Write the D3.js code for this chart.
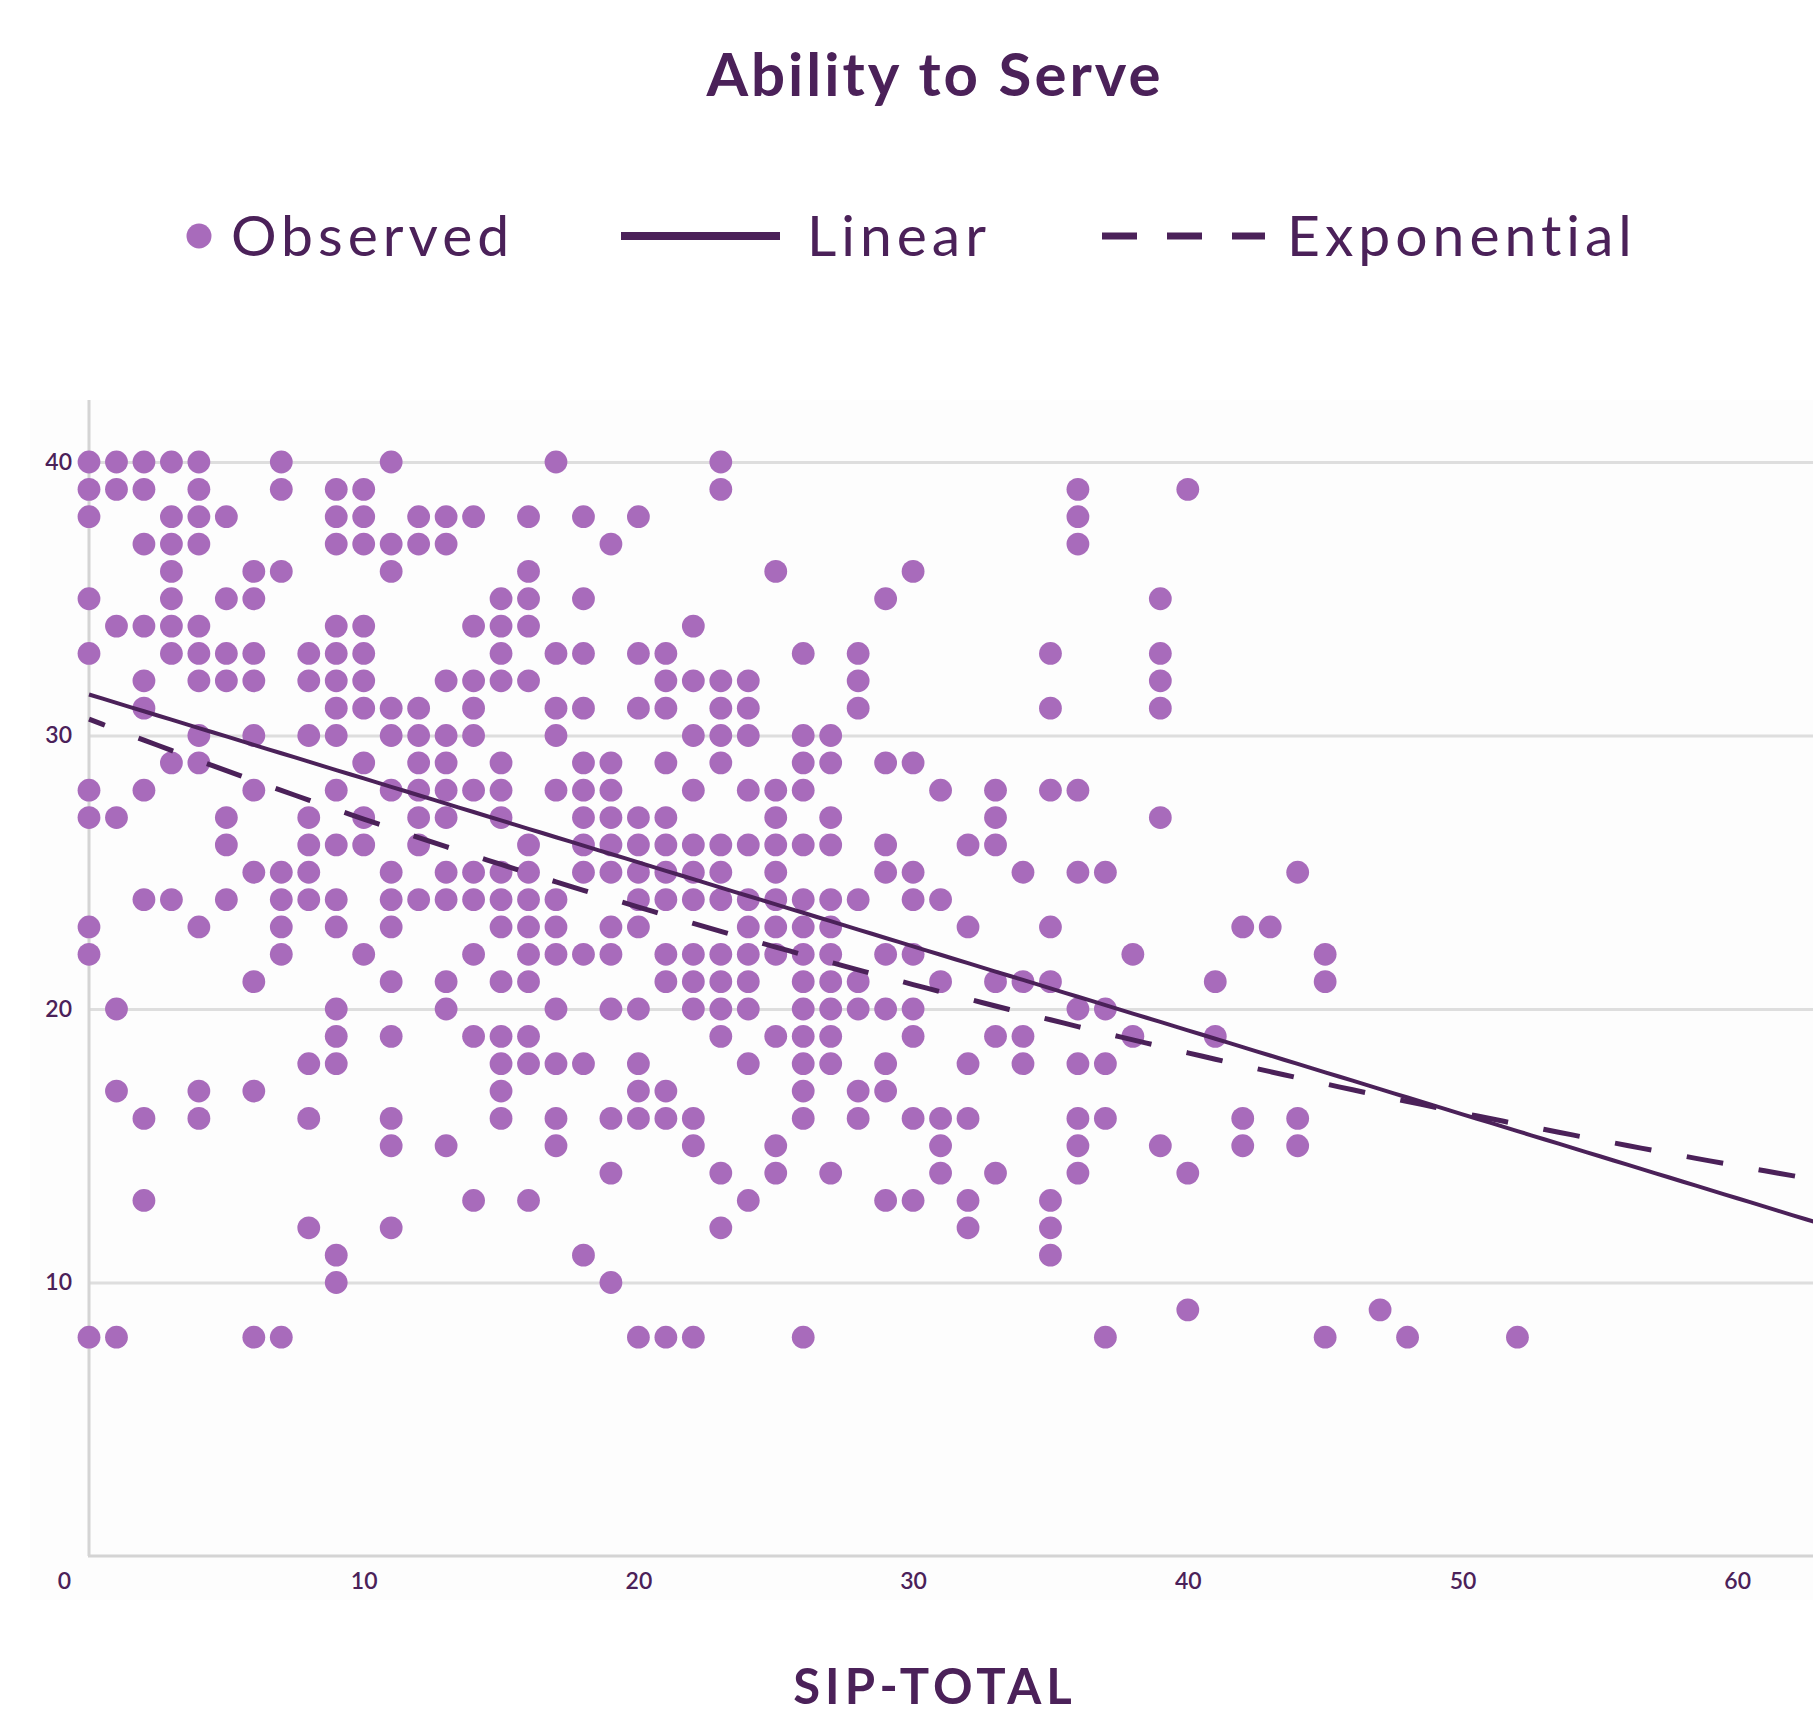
<!DOCTYPE html>
<meta charset="utf-8">
<script src="https://d3js.org/d3.v7.min.js"></script>
<style>
  body { margin: 0; background: #ffffff; }
  text { font-family: Lato, "Open Sans", sans-serif; fill: #4b2159; }
</style>
<body>
<div id="chart"></div>
<script>
// observed responses: for each score level, the SIP-total values that were observed
var scoreLevels = [40, 39, 38, 37, 36, 35, 34, 33, 32, 31, 30, 29, 28, 27, 26, 25, 24,
                   23, 22, 21, 20, 19, 18, 17, 16, 15, 14, 13, 12, 11, 10, 9, 8];
var sipAtLevel = [
  [0,1,2,3,4,7,11,17,23],
  [0,1,2,4,7,9,10,23,36,40],
  [0,3,4,5,9,10,12,13,14,16,18,20,36],
  [2,3,4,9,10,11,12,13,19,36],
  [3,6,7,11,16,25,30],
  [0,3,5,6,15,16,18,29,39],
  [1,2,3,4,9,10,14,15,16,22],
  [0,3,4,5,6,8,9,10,15,17,18,20,21,26,28,35,39],
  [2,4,5,6,8,9,10,13,14,15,16,21,22,23,24,28,39],
  [2,9,10,11,12,14,17,18,20,21,23,24,28,35,39],
  [4,6,8,9,11,12,13,14,17,22,23,24,26,27],
  [3,4,10,12,13,15,18,19,21,23,26,27,29,30],
  [0,2,6,9,11,12,13,14,15,17,18,19,22,24,25,26,31,33,35,36],
  [0,1,5,8,10,12,13,15,18,19,20,21,25,27,33,39],
  [5,8,9,10,12,16,18,19,20,21,22,23,24,25,26,27,29,32,33],
  [6,7,8,11,13,14,15,16,18,19,20,21,22,23,25,29,30,34,36,37,44],
  [2,3,5,7,8,9,11,12,13,14,15,16,17,20,21,22,23,24,25,26,27,28,30,31],
  [0,4,7,9,11,15,16,17,19,20,24,25,26,27,32,35,42,43],
  [0,7,10,14,16,17,18,19,21,22,23,24,25,26,27,29,30,38,45],
  [6,11,13,15,16,21,22,23,24,26,27,28,31,33,34,35,41,45],
  [1,9,13,17,19,20,22,23,24,26,27,28,29,30,36,37],
  [9,11,14,15,16,23,25,26,27,30,33,34,38,41],
  [8,9,15,16,17,18,20,24,26,27,29,32,34,36,37],
  [1,4,6,15,20,21,26,28,29],
  [2,4,8,11,15,17,19,20,21,22,26,28,30,31,32,36,37,42,44],
  [11,13,17,22,25,31,36,39,42,44],
  [19,23,25,27,31,33,36,40],
  [2,14,16,24,29,30,32,35],
  [8,11,23,32,35],
  [9,18,35],
  [9,19],
  [40,47],
  [0,1,6,7,20,21,22,26,37,45,48,52]
];

// fitted trend lines
var linearFit = { intercept: 31.5, slope: -0.307 };
var expFit = { a: 30.6, b: -0.01272 };

var xTicks = [0, 10, 20, 30, 40, 50, 60];
var yTicks = [10, 20, 30, 40];
var legendLabels = ["Observed", "Linear", "Exponential"];

var W = 1813, H = 1713;
var purple = "#a86bbb", dark = "#4b2159";

var svg = d3.select("#chart").append("svg")
  .attr("width", W).attr("height", H);

// scales
var x = d3.scaleLinear().domain([0, 60]).range([89, 89 + 60 * 27.47]);
var y = d3.scaleLinear().domain([0, 40]).range([1556, 462]);
var xEnd = x.invert(W);

// faint plot background
svg.append("rect")
  .attr("x", 30).attr("y", 400).attr("width", W - 30).attr("height", 1200)
  .attr("fill", "#fdfdfd");

// grid lines
svg.append("g")
  .attr("transform", "translate(" + x(0) + ",0)")
  .call(d3.axisLeft(y).tickValues(yTicks).tickSize(-(W - x(0))).tickFormat(""))
  .call(function(g) { g.select(".domain").remove(); })
  .selectAll(".tick line")
    .attr("stroke", "#dedede").attr("stroke-width", 3);

// axis lines
svg.append("line")
  .attr("x1", x(0)).attr("x2", x(0)).attr("y1", 400).attr("y2", y(0))
  .attr("stroke", "#d4d4d4").attr("stroke-width", 3);
svg.append("line")
  .attr("x1", x(0) - 1).attr("x2", W).attr("y1", y(0)).attr("y2", y(0))
  .attr("stroke", "#d4d4d4").attr("stroke-width", 3);

// y tick labels
var yAxis = svg.append("g")
  .attr("transform", "translate(" + x(0) + ",0)")
  .call(d3.axisLeft(y).tickValues(yTicks).tickSize(0).tickPadding(17));
yAxis.select(".domain").remove();
yAxis.selectAll("text")
  .style("font-family", "Lato, sans-serif")
  .style("font-size", "23px").style("font-weight", "600")
  .attr("fill", dark);

// x tick labels
var xAxis = svg.append("g")
  .attr("transform", "translate(0," + y(0) + ")")
  .call(d3.axisBottom(x).tickValues(xTicks).tickSize(0).tickPadding(17));
xAxis.select(".domain").remove();
xAxis.selectAll("text")
  .style("font-family", "Lato, sans-serif")
  .style("font-size", "23px").style("font-weight", "600")
  .attr("fill", dark)
  .attr("dx", function(d) { return d === 0 ? -25 : 0; });

// observed points
var points = [];
scoreLevels.forEach(function(s, i) {
  sipAtLevel[i].forEach(function(v) { points.push({ sip: v, score: s }); });
});
svg.append("g").selectAll("circle")
  .data(points)
  .enter().append("circle")
    .attr("cx", function(d) { return x(d.sip); })
    .attr("cy", function(d) { return y(d.score); })
    .attr("r", 11.4)
    .attr("fill", purple);

// trend lines
var fitX = d3.range(0, Math.ceil(xEnd) + 1, 0.5);
var linePath = d3.line()
  .x(function(d) { return x(d); })
  .y(function(d) { return y(linearFit.intercept + linearFit.slope * d); });
var expPath = d3.line()
  .x(function(d) { return x(d); })
  .y(function(d) { return y(expFit.a * Math.exp(expFit.b * d)); });

svg.append("path")
  .datum(fitX)
  .attr("d", linePath)
  .attr("fill", "none").attr("stroke", dark).attr("stroke-width", 4);
svg.append("path")
  .datum(fitX)
  .attr("d", expPath)
  .attr("fill", "none").attr("stroke", dark).attr("stroke-width", 5)
  .attr("stroke-dasharray", "37 36").attr("stroke-dashoffset", 20);

// title
svg.append("text")
  .attr("x", 935).attr("y", 96)
  .attr("text-anchor", "middle")
  .style("font-size", "60px").style("font-weight", "700")
  .style("letter-spacing", "3px")
  .text("Ability to Serve");

// legend
var legend = svg.append("g");
legend.append("circle").attr("cx", 199).attr("cy", 236).attr("r", 12.5).attr("fill", purple);
legend.append("line").attr("x1", 621).attr("x2", 780).attr("y1", 236).attr("y2", 236)
  .attr("stroke", dark).attr("stroke-width", 8);
legend.append("line").attr("x1", 1102).attr("x2", 1265).attr("y1", 236).attr("y2", 236)
  .attr("stroke", dark).attr("stroke-width", 7).attr("stroke-dasharray", "35 30");
var legendX = [231, 807, 1287];
legend.selectAll("text.leg")
  .data(legendLabels)
  .enter().append("text")
    .attr("class", "leg")
    .attr("x", function(d, i) { return legendX[i]; })
    .attr("y", 256)
    .style("font-size", "57px").style("font-weight", "400")
    .style("letter-spacing", "5px")
    .text(function(d) { return d; });

// x axis title
svg.append("text")
  .attr("x", 935).attr("y", 1704)
  .attr("text-anchor", "middle")
  .style("font-size", "49px").style("font-weight", "700")
  .style("letter-spacing", "5px")
  .text("SIP-TOTAL");
</script>
</body>
